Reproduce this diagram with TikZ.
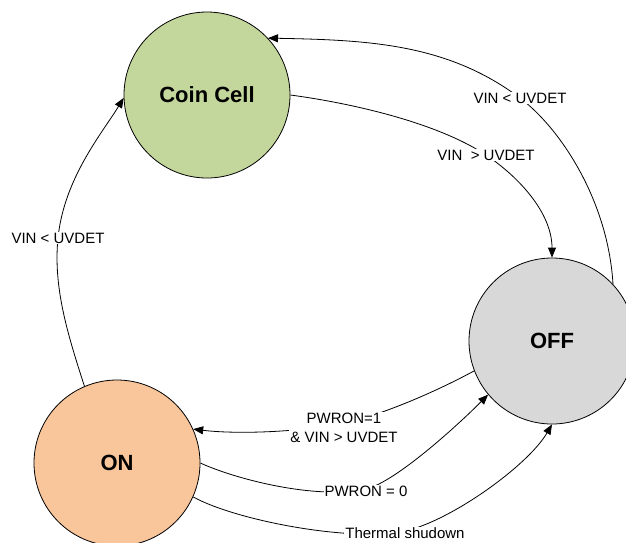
\documentclass[tikz,border=0pt]{standalone}
\usepackage{fontspec}
\setmainfont{Liberation Sans}
\usetikzlibrary{arrows.meta}
\definecolor{coinfill}{HTML}{C3D69B}
\definecolor{offfill}{HTML}{D8D8D8}
\definecolor{onfill}{HTML}{F9C59B}
\begin{document}
\begin{tikzpicture}[x=1pt,y=-1pt,
  state/.style={circle,draw,line width=0.8pt,minimum size=166pt,inner sep=0pt,
    font=\fontsize{22}{26}\selectfont\bfseries},
  trans/.style={line width=0.8pt,-{Triangle[length=10pt,width=8pt]}},
  lbl/.style={fill=white,inner sep=1pt,align=center,
    font=\fontsize{15}{19}\selectfont}]
\useasboundingbox (0,0) rectangle (626,542);
\node[state,fill=coinfill] (coin) at (207,95) {Coin Cell};
\node[state,fill=offfill] (off) at (552,341) {OFF};
\node[state,fill=onfill] (on) at (117,463) {ON};

\coordinate (m1) at (520,98);
\coordinate (m2) at (486,155);
\coordinate (m3) at (58,238);
\coordinate (m4) at (344,423);
\coordinate (m5) at (366,489);
\coordinate (m6) at (400,532);

\draw[trans] (off.43) .. controls (608,200) and (560,128) .. (m1)
  .. controls (448,44) and (370,40) .. (coin.43);
\draw[trans] (coin.0) .. controls (350,103) and (436,122) .. (m2)
  .. controls (519,177) and (552,213) .. (off.90);
\draw[trans] (on.113) .. controls (68,335) and (53,288) .. (m3)
  .. controls (64,178) and (103,132) .. (coin.182);
\draw[trans] (off.201) .. controls (439,390) and (383,415) .. (m4)
  .. controls (295,433) and (233,434) .. (on.24);
\draw[trans] (on.0) .. controls (235,479) and (316,500) .. (m5)
  .. controls (396,482) and (460,423) .. (off.220);
\draw[trans] (on.336) .. controls (235,520) and (345,541) .. (m6)
  .. controls (445,525) and (527,467) .. (off.270);

\node[lbl] (l1) at (m1) {VIN < UVDET};
\node[lbl] (l2) at (m2) {VIN~~> UVDET};
\node[lbl] (l3) at (m3) {VIN < UVDET};
\node[lbl] (l4) at (344,427.5) {PWRON=1\\\& VIN > UVDET};
\node[lbl] (l5) at (366,491) {PWRON = 0};
\node[lbl] (l6) at (405,533.5) {Thermal shudown};
\end{tikzpicture}
\end{document}
